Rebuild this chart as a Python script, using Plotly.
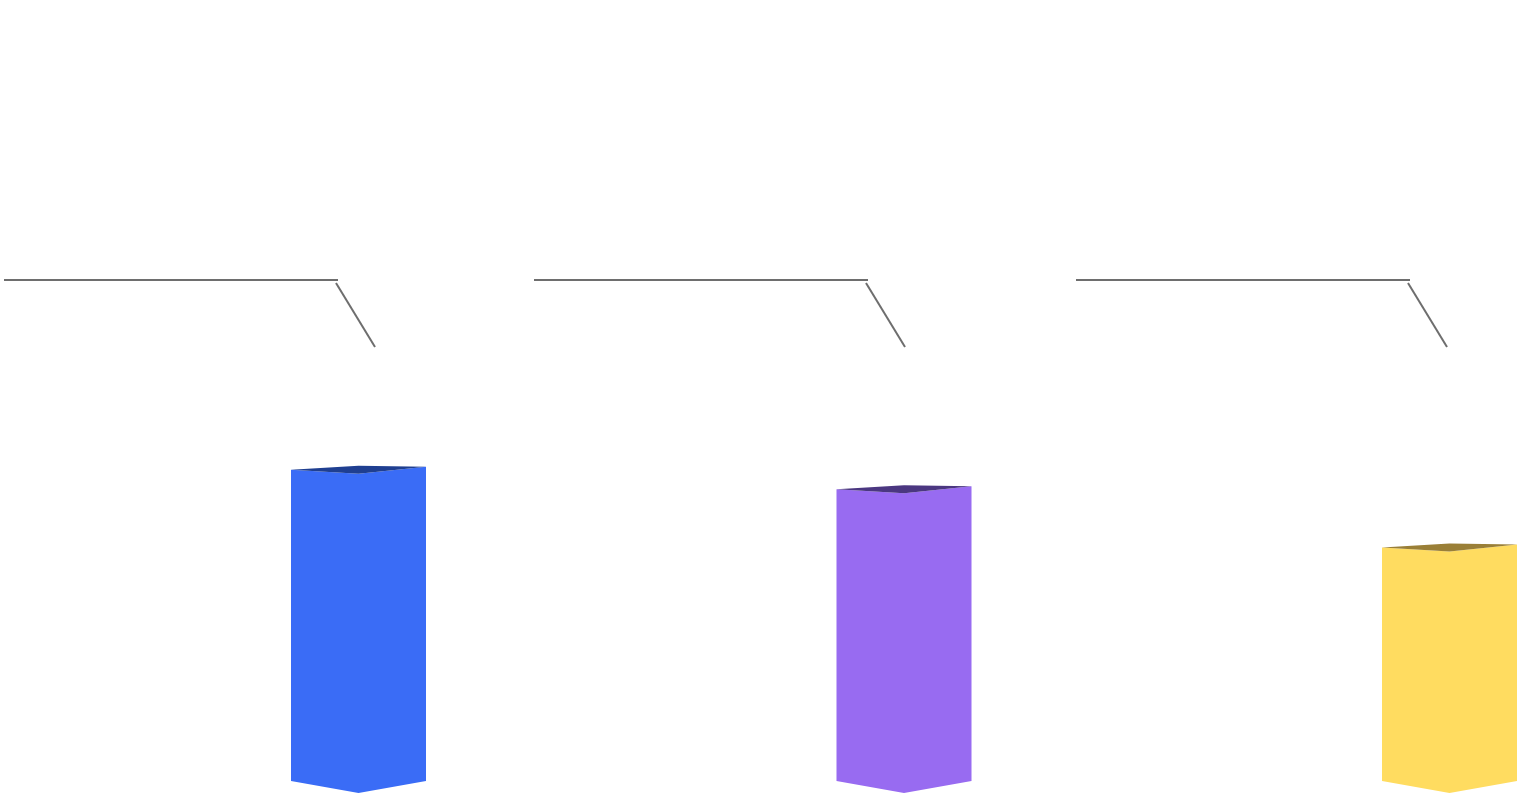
import plotly.graph_objects as go

# ---- data ----
categories = ["A", "B", "C"]
values = [80, 75, 60]
front_colors = ["#3a6cf6", "#986bf1", "#ffdc60"]
top_colors = ["#1f3f91", "#4b3781", "#9a7f37"]

# ---- geometry (pixel -> data helpers) ----
W, H = 1526, 794
PX_X = 545.5          # px per category unit
X0_PX = 358.5         # pixel of category 0 centre
PX_Y = 3.89           # px per value unit
BASE_PX = 781         # pixel of value 0

def ux(px):
    return px / PX_X

def uy(px):
    return px / PX_Y

half_w = ux(67.5)
fig = go.Figure()

for i, (cat, v, fc, tc) in enumerate(zip(categories, values, front_colors, top_colors)):
    xc = i
    xl, xr = xc - half_w, xc + half_w
    # front faces
    fx = [xl, xc, xr, xr, xc, xl, xl]
    fy = [v, v - uy(4), v + uy(3), 0, -uy(12), 0, v]
    fig.add_trace(go.Scatter(x=fx, y=fy, fill="toself", fillcolor=fc, mode="lines",
                             line=dict(width=0, color=fc), hoverinfo="skip", showlegend=False))
    # top face
    tx = [xl, xc, xr, xc, xl]
    ty = [v, v + uy(4), v + uy(3), v - uy(4), v]
    fig.add_trace(go.Scatter(x=tx, y=ty, fill="toself", fillcolor=tc, mode="lines",
                             line=dict(width=0, color=tc), hoverinfo="skip", showlegend=False))

# ---- label leader lines (labels empty) ----
callout_start_px = [4, 534, 1076]
label_y = uy(BASE_PX - 280)
elbow_y = uy(BASE_PX - 283)
end_y = uy(BASE_PX - 347)
lx, ly = [], []
for i, s in enumerate(callout_start_px):
    sx = ux(s - X0_PX)
    ex = ux(s + 334 - X0_PX)
    lx += [sx, ex, None, ex - ux(2), ex + ux(37), None]
    ly += [label_y, label_y, None, elbow_y, end_y, None]
fig.add_trace(go.Scatter(x=lx, y=ly, mode="lines", line=dict(color="#6e6e6e", width=2),
                         hoverinfo="skip", showlegend=False))

fig.update_layout(
    width=W, height=H,
    margin=dict(l=0, r=0, t=0, b=0),
    paper_bgcolor="white", plot_bgcolor="white",
    xaxis=dict(range=[ux(-X0_PX), ux(W - X0_PX)], visible=False, fixedrange=True),
    yaxis=dict(range=[uy(BASE_PX - H), uy(BASE_PX)], visible=False, fixedrange=True),
    showlegend=False,
)

fig.write_html("out.html")
